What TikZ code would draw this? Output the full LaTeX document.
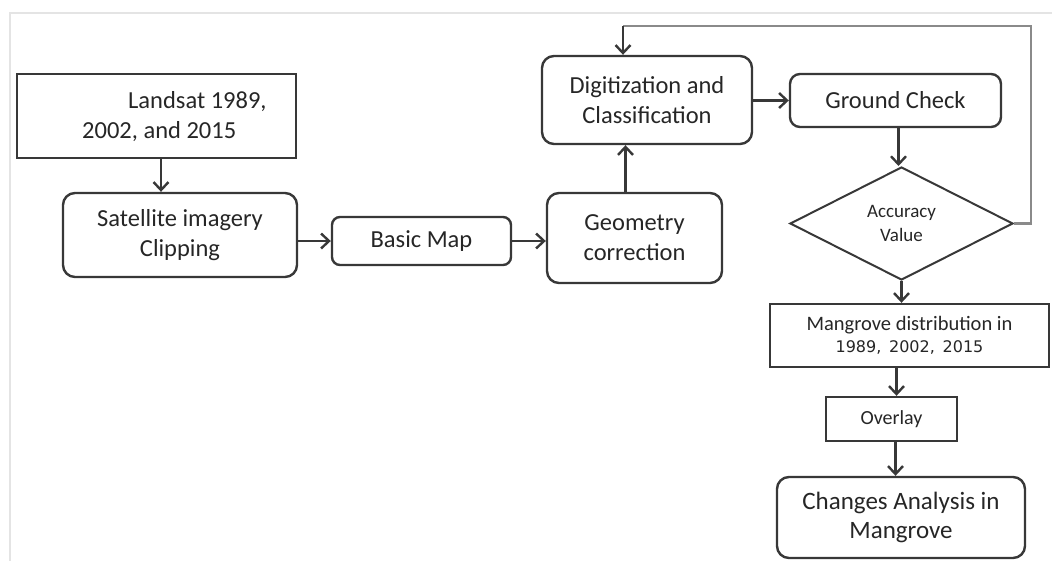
\documentclass[tikz,border=0pt]{standalone}
\usepackage{fontspec}
\setmainfont{Carlito}
\newfontfamily\numfont{DejaVu Sans}
\usetikzlibrary{arrows.meta,shapes.geometric}
\definecolor{boxline}{HTML}{383838}
\definecolor{txt}{HTML}{262626}
\definecolor{fb}{HTML}{8A8A8A}
\definecolor{frame}{HTML}{E4E4E4}
\tikzset{
  base/.style={draw=boxline, line width=2.4pt, inner sep=0pt, text=txt, align=center,
    font=\fontsize{24.5}{30}\selectfont},
  sqbox/.style={base, rectangle},
  rbox/.style={base, rectangle, rounded corners=12pt},
  decision/.style={base, diamond, line width=2pt, font=\fontsize{19}{24}\selectfont},
  arr/.style={draw=boxline, line width=2.4pt, -{Straight Barb[length=8pt,width=15pt]}},
  fbline/.style={draw=fb, line width=2.2pt},
}
\begin{document}
\begin{tikzpicture}[x=1pt,y=-1pt]
\useasboundingbox (0,0) rectangle (1052,560);
% light frame
\draw[frame, line width=2pt] (10,570) -- (10,13) -- (1062,13);

\node[sqbox, minimum width=279pt, minimum height=84pt] (land) at (156.5,116) {};
\node[text=txt, font=\fontsize{24.5}{30}\selectfont, align=left, anchor=west, inner sep=0pt] (landtxt) at (82,117)
  {\hspace*{46pt}Landsat 1989,\\2002, and 2015};
\node[rbox, minimum width=234pt, minimum height=84pt] (sat) at (180,235) {Satellite imagery\\Clipping};
\node[rbox, rounded corners=8pt, minimum width=179pt, minimum height=48pt] (basic) at (421.5,241) {Basic Map};
\node[rbox, minimum width=175pt, minimum height=90pt] (geo) at (634.5,238) {Geometry\\correction};
\node[rbox, minimum width=210pt, minimum height=88pt] (dig) at (647,100) {Digitization and\\Classification};
\node[rbox, rounded corners=10pt, minimum width=211pt, minimum height=53pt] (gc) at (895.5,100.5) {Ground Check};
\node[decision, minimum width=223pt, minimum height=113pt] (acc) at (901.5,223.5) {Accuracy\\Value};
\node[sqbox, minimum width=279pt, minimum height=63pt, font=\fontsize{20.5}{22}\selectfont] (mang) at (909.5,335.5)
  {Mangrove distribution in\\{\numfont\fontsize{16}{22}\selectfont 1989,\, 2002,\, 2015}};
\node[sqbox, minimum width=131pt, minimum height=44pt, font=\fontsize{20}{24}\selectfont] (ovl) at (891.5,419) {Overlay};
\node[rbox, minimum width=248pt, minimum height=81pt, font=\fontsize{25}{29}\selectfont] (chg) at (901,517.5) {Changes Analysis in\\Mangrove};

% connectors
\draw[arr] ([xshift=4.5pt]land.south) -- ([xshift=4.5pt]land.south |- sat.north);
\draw[arr] (sat.east |- basic.west) -- (basic.west);
\draw[arr] (basic.east) -- (basic.east -| geo.west);
\draw[arr] ([xshift=-9pt]geo.north) -- ([xshift=-9pt]geo.north |- dig.south);
\draw[arr] (dig.east |- gc.west) -- (gc.west);
\draw[arr] ([xshift=3pt]gc.south) -- ([xshift=3pt]gc.south |- acc.north);
\draw[arr] (acc.south) -- (acc.south |- mang.north);
\draw[arr] ([xshift=5pt]ovl.north |- mang.south) -- ([xshift=5pt]ovl.north);
\draw[arr] ([xshift=4pt]ovl.south) -- ([xshift=4pt]ovl.south |- chg.north);
% feedback loop
\coordinate (fbr) at (1031,223.5);
\coordinate (fbt) at (1031,26);
\coordinate (fbl) at (623,26);
\draw[fbline] (acc.east) -- (fbr) -- (fbt) -- (fbl);
\draw[arr] (fbl) -- (fbl |- dig.north);
\end{tikzpicture}
\end{document}
